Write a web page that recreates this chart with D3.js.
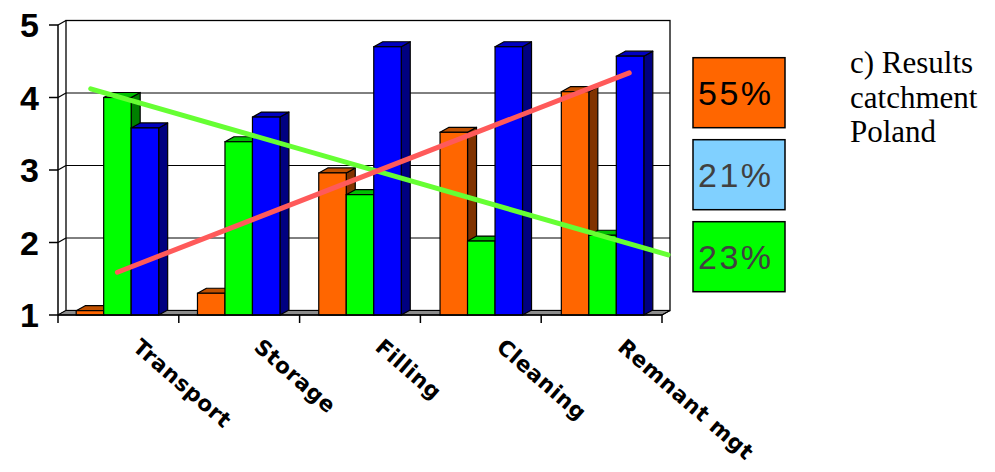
<!DOCTYPE html>
<html>
<head>
<meta charset="utf-8">
<script src="https://cdn.jsdelivr.net/npm/d3@7"></script>
<style>
  html, body { margin: 0; padding: 0; background: #ffffff; }
  svg { display: block; }
</style>
</head>
<body>
<svg id="chart" width="995" height="472"></svg>
<script>
// ---------- data ----------
const categories = ["Transport", "Storage", "Filling", "Cleaning", "Remnant mgt"];
const seriesNames = ["orange", "green", "blue"];
const orangeValues = [1.06, 1.30, 2.96, 3.52, 4.08];
const greenValues  = [4.00, 3.39, 2.66, 2.02, 2.10];
const blueValues   = [3.58, 3.73, 4.70, 4.70, 4.57];
const yTicks = [1, 2, 3, 4, 5];
// trend lines: [category index, value] end points
const greenTrend = [[-0.22, 4.12], [4.54, 1.83]];
const redTrend   = [[0.0, 1.59], [4.22, 4.34]];
const legendLabels = ["55%", "21%", "23%"];
const titleLines = ["c) Results", "catchment", "Poland"];

// ---------- styles ----------
const frontColors = { orange: "#ff6600", green: "#00ff00", blue: "#0000ff" };
const topColors   = { orange: "#c05000", green: "#00c000", blue: "#0000c0" };
const sideColors  = { orange: "#803300", green: "#008000", blue: "#000080" };
const legendColors = ["#ff6600", "#80d0ff", "#00ff00"];
const legendTextColors = ["#000000", "#404040", "#404040"];

const svg = d3.select("#chart");

const plotLeft = 58, plotRight = 662, plotBottom = 315, plotTop = 25;
const wallDx = 8, wallDy = -4.5;
const barDx = 9, barDy = -5;

const y = d3.scaleLinear().domain([1, 5]).range([plotBottom, plotTop]);
const x = d3.scaleBand().domain(categories).range([plotLeft, plotRight])
  .paddingInner(0.32).paddingOuter(0.15);
const xs = d3.scaleBand().domain(seriesNames).range([0, x.bandwidth()]);
const xTickScale = d3.scaleLinear().domain([0, categories.length]).range([plotLeft, plotRight]);
const xIdx = d3.scaleLinear().domain([0, 1])
  .range([x(categories[0]) + x.bandwidth() / 2, x(categories[1]) + x.bandwidth() / 2]);

// ---------- back wall ----------
const wall = svg.append("g");
wall.append("rect")
  .attr("x", plotLeft + wallDx).attr("y", plotTop + wallDy)
  .attr("width", plotRight - plotLeft).attr("height", plotBottom - plotTop)
  .attr("fill", "#ffffff").attr("stroke", "#000").attr("stroke-width", 1.3);
wall.selectAll("line.grid").data(yTicks.filter(t => t > 1 && t < 5)).join("line")
  .attr("class", "grid")
  .attr("x1", plotLeft + wallDx).attr("x2", plotRight + wallDx)
  .attr("y1", d => y(d) + wallDy).attr("y2", d => y(d) + wallDy)
  .attr("stroke", "#000").attr("stroke-width", 1);

// left side wall connectors
wall.selectAll("line.conn").data(yTicks).join("line")
  .attr("class", "conn")
  .attr("x1", plotLeft).attr("y1", d => y(d))
  .attr("x2", plotLeft + wallDx).attr("y2", d => y(d) + wallDy)
  .attr("stroke", "#000").attr("stroke-width", 1.3);

// floor
wall.append("polygon")
  .attr("points", [
    [plotLeft, plotBottom], [plotRight, plotBottom],
    [plotRight + wallDx, plotBottom + wallDy], [plotLeft + wallDx, plotBottom + wallDy]
  ].map(p => p.join(",")).join(" "))
  .attr("fill", "#8c8c8c").attr("stroke", "#000").attr("stroke-width", 1);

// ---------- bars ----------
const rows = categories.map((c, i) => ({
  cat: c,
  vals: [
    { s: "orange", v: orangeValues[i] },
    { s: "green", v: greenValues[i] },
    { s: "blue", v: blueValues[i] }
  ]
}));

const barsG = svg.append("g");
rows.forEach(r => {
  r.vals.forEach(d => {
    const x0 = x(r.cat) + xs(d.s);
    const w = xs.bandwidth();
    const yt = y(d.v), yb = y(1);
    const g = barsG.append("g");
    g.append("polygon")
      .attr("points", [[x0 + w, yt], [x0 + w + barDx, yt + barDy], [x0 + w + barDx, yb + barDy], [x0 + w, yb]]
        .map(p => p.join(",")).join(" "))
      .attr("fill", sideColors[d.s]).attr("stroke", "#000").attr("stroke-width", 1.2)
      .attr("stroke-linejoin", "round");
    g.append("polygon")
      .attr("points", [[x0, yt], [x0 + barDx, yt + barDy], [x0 + w + barDx, yt + barDy], [x0 + w, yt]]
        .map(p => p.join(",")).join(" "))
      .attr("fill", topColors[d.s]).attr("stroke", "#000").attr("stroke-width", 1.2)
      .attr("stroke-linejoin", "round");
    g.append("rect")
      .attr("x", x0).attr("y", yt).attr("width", w).attr("height", yb - yt)
      .attr("fill", frontColors[d.s]).attr("stroke", "#000").attr("stroke-width", 1.2);
  });
});

// ---------- front axes ----------
const axG = svg.append("g");
axG.append("line")
  .attr("x1", plotLeft).attr("x2", plotLeft).attr("y1", y(5)).attr("y2", y(1))
  .attr("stroke", "#000").attr("stroke-width", 1.5);
axG.append("line")
  .attr("x1", plotLeft).attr("x2", plotRight).attr("y1", y(1)).attr("y2", y(1))
  .attr("stroke", "#000").attr("stroke-width", 1.5);
axG.append("line")
  .attr("x1", plotRight).attr("x2", plotRight + wallDx).attr("y1", y(1)).attr("y2", y(1) + wallDy)
  .attr("stroke", "#000").attr("stroke-width", 1.2);
axG.selectAll("line.ytick").data(yTicks).join("line")
  .attr("class", "ytick")
  .attr("x1", plotLeft - 9).attr("x2", plotLeft).attr("y1", d => y(d)).attr("y2", d => y(d))
  .attr("stroke", "#000").attr("stroke-width", 1.5);
axG.selectAll("text.ylab").data(yTicks).join("text")
  .attr("class", "ylab")
  .attr("x", 39).attr("y", d => y(d) + 12)
  .attr("text-anchor", "end")
  .attr("font-family", "'Liberation Sans', Arial, sans-serif")
  .attr("font-weight", "bold").attr("font-size", 34)
  .text(d => d);
axG.selectAll("line.xtick").data(d3.range(categories.length + 1)).join("line")
  .attr("class", "xtick")
  .attr("x1", d => xTickScale(d)).attr("x2", d => xTickScale(d))
  .attr("y1", y(1)).attr("y2", y(1) + 8)
  .attr("stroke", "#000").attr("stroke-width", 1.5);
axG.selectAll("text.xlab").data(categories).join("text")
  .attr("class", "xlab")
  .attr("transform", d => `translate(${x(d) + x.bandwidth() / 2 + 14},349) rotate(41)`)
  .attr("font-family", "'DejaVu Sans', Verdana, sans-serif")
  .attr("font-weight", "bold").attr("font-size", 21.5).attr("letter-spacing", 0.6)
  .text(d => d);

// ---------- trend lines ----------
const line = d3.line().x(d => xIdx(d[0])).y(d => y(d[1]));
svg.append("path").datum(greenTrend).attr("d", line)
  .attr("fill", "none").attr("stroke", "#66ff33").attr("stroke-width", 5)
  .attr("stroke-linecap", "round");
svg.append("path").datum(redTrend).attr("d", line)
  .attr("fill", "none").attr("stroke", "#ff5a5a").attr("stroke-width", 5)
  .attr("stroke-linecap", "round");

// ---------- legend boxes ----------
const legY = d3.scalePoint().domain(legendLabels).range([57.7, 221.7]);
const leg = svg.append("g");
leg.selectAll("rect").data(legendLabels).join("rect")
  .attr("x", 693).attr("y", d => legY(d))
  .attr("width", 92).attr("height", 70)
  .attr("fill", (d, i) => legendColors[i])
  .attr("stroke", "#000").attr("stroke-width", 1.5);
leg.selectAll("text").data(legendLabels).join("text")
  .attr("x", 698).attr("y", d => legY(d) + 47.5)
  .attr("font-family", "'Liberation Sans', Arial, sans-serif")
  .attr("font-size", 34).attr("letter-spacing", 2.5)
  .attr("fill", (d, i) => legendTextColors[i])
  .text(d => d);

// ---------- title ----------
svg.append("g").selectAll("text").data(titleLines).join("text")
  .attr("x", 850).attr("y", (d, i) => 73 + i * 34.5)
  .attr("font-family", "'Liberation Serif', 'Times New Roman', serif")
  .attr("font-size", 31)
  .text(d => d);
</script>
</body>
</html>
